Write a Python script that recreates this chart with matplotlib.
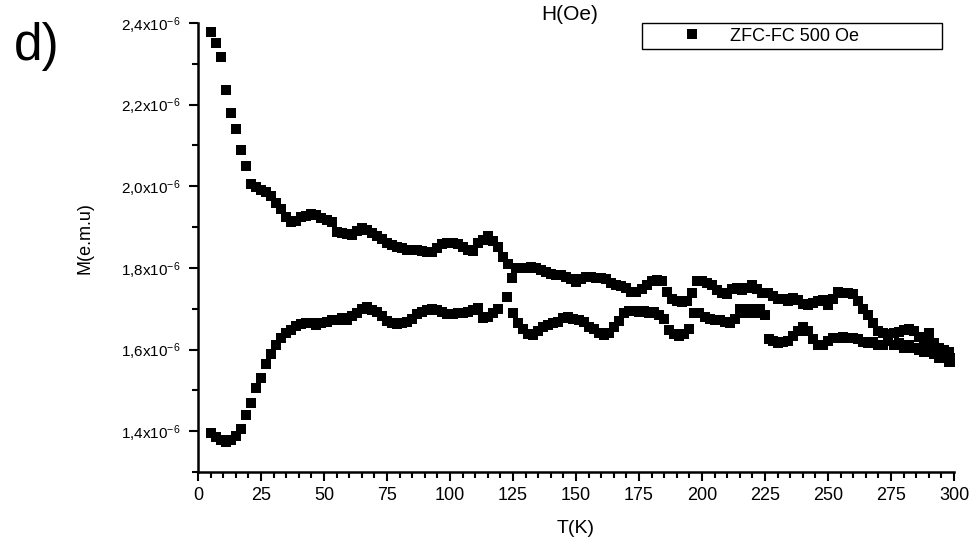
import matplotlib
matplotlib.use("Agg")
import matplotlib.pyplot as plt
from matplotlib.ticker import MultipleLocator, FuncFormatter, FixedLocator

plt.rcParams['font.family'] = ['Liberation Sans', 'DejaVu Sans']
plt.rcParams['mathtext.fontset'] = 'custom'
plt.rcParams['mathtext.rm'] = 'Liberation Sans'
plt.rcParams['mathtext.it'] = 'Liberation Sans'

# Lower branch (x 1e-6 emu)
t_low = [5, 7, 9, 11, 13, 15, 17, 19, 21, 23, 25, 27, 29, 31, 33, 35, 37, 39, 41, 43,
         45, 47, 49, 51, 53, 55, 57, 59, 61, 63, 65, 67, 69, 71, 73, 75, 77, 79, 81, 83,
         85, 87, 89, 91, 93, 95, 97, 99, 101, 103, 105, 107, 109, 111, 113, 115, 117, 119,
         122.5, 125, 127, 129, 131, 133, 135, 137, 139, 141, 143, 145, 147, 149, 151, 153,
         155, 157, 159, 161, 163, 165, 167, 169, 171, 173, 175, 177, 179, 181, 183, 185,
         187, 189, 191, 193, 195, 197, 199, 201, 203, 205, 207, 209, 211, 213, 215, 217,
         219, 221, 223, 225, 226.5, 228, 230, 232, 234, 236, 238, 240, 242, 244, 246, 248,
         250, 252, 254, 256, 258, 260, 262, 264, 266, 268, 270, 272, 274, 276, 278, 280,
         282, 284, 286, 288, 290, 292, 294, 296, 298, 299.5]
m_low = [1.396, 1.385, 1.378, 1.374, 1.378, 1.388, 1.405, 1.44, 1.47, 1.505, 1.53, 1.565,
         1.59, 1.612, 1.628, 1.64, 1.648, 1.657, 1.663, 1.665, 1.664, 1.66, 1.665, 1.667,
         1.672, 1.672, 1.678, 1.672, 1.683, 1.69, 1.70, 1.704, 1.698, 1.692, 1.682, 1.67,
         1.664, 1.663, 1.666, 1.668, 1.675, 1.688, 1.692, 1.698, 1.70, 1.698, 1.692, 1.688,
         1.688, 1.69, 1.69, 1.693, 1.698, 1.702, 1.677, 1.68, 1.69, 1.70,
         1.729, 1.69, 1.665, 1.65, 1.638, 1.636, 1.645, 1.655, 1.66, 1.665, 1.668, 1.678,
         1.68, 1.676, 1.672, 1.668, 1.655, 1.65, 1.64, 1.635, 1.64, 1.655, 1.67, 1.69,
         1.695, 1.695, 1.692, 1.695, 1.69, 1.692, 1.685, 1.675, 1.648, 1.638, 1.632,
         1.638, 1.65, 1.69, 1.69, 1.68, 1.675, 1.672, 1.672, 1.668, 1.666, 1.675, 1.70,
         1.69, 1.70, 1.69, 1.70, 1.685, 1.625, 1.62, 1.615, 1.618, 1.622, 1.632, 1.645,
         1.655, 1.645, 1.625, 1.612, 1.612, 1.62, 1.628, 1.628, 1.63, 1.628, 1.628, 1.625,
         1.618, 1.615, 1.618, 1.612, 1.61, 1.62, 1.612, 1.615, 1.605, 1.61, 1.605, 1.60,
         1.595, 1.60, 1.59, 1.58, 1.585, 1.57, 1.57]

# Upper branch (x 1e-6 emu)
t_up = [5, 7, 9, 11, 13, 15, 17, 19, 21, 23, 25, 27, 29, 31, 33, 35, 37, 39, 41, 43, 45,
        47, 49, 51, 53, 55, 57, 59, 61, 63, 65, 67, 69, 71, 73, 75, 77, 79, 81, 83, 85, 87,
        89, 91, 93, 95, 97, 99, 101, 103, 105, 107, 109, 111, 113, 115, 117, 119, 121, 123,
        124.5, 126, 128, 130, 132, 134, 136, 138, 140, 142, 144, 146, 148, 150, 152, 154,
        156, 158, 160, 162, 164, 166, 168, 170, 172, 174, 176, 178, 180, 182, 184, 186,
        188, 190, 192, 194, 196, 198, 200, 202, 204, 206, 208, 210, 212, 214, 216, 218,
        220, 222, 224, 226, 228, 230, 232, 234, 236, 238, 240, 242, 244, 246, 248, 250,
        252, 254, 256, 258, 260, 262, 264, 266, 268, 270, 272, 274, 276, 278, 280, 282,
        284, 286, 288, 290, 292, 294, 296, 298, 299.5]
m_up = [2.377, 2.35, 2.317, 2.236, 2.18, 2.14, 2.089, 2.05, 2.005, 1.998, 1.99, 1.985,
        1.975, 1.96, 1.945, 1.925, 1.912, 1.915, 1.925, 1.928, 1.932, 1.93, 1.922, 1.917,
        1.912, 1.888, 1.886, 1.884, 1.881, 1.89, 1.898, 1.892, 1.885, 1.878, 1.87, 1.86,
        1.855, 1.852, 1.848, 1.845, 1.844, 1.844, 1.842, 1.84, 1.838, 1.848, 1.858, 1.86,
        1.86, 1.858, 1.852, 1.845, 1.842, 1.86, 1.868, 1.878, 1.865, 1.852, 1.827, 1.81,
        1.775, 1.80, 1.80, 1.80, 1.802, 1.80, 1.795, 1.79, 1.785, 1.783, 1.782, 1.778,
        1.772, 1.765, 1.772, 1.778, 1.778, 1.775, 1.775, 1.772, 1.762, 1.758, 1.755, 1.75,
        1.742, 1.741, 1.748, 1.758, 1.768, 1.77, 1.768, 1.741, 1.725, 1.718, 1.716, 1.72,
        1.738, 1.768, 1.768, 1.763, 1.758, 1.745, 1.738, 1.735, 1.748, 1.75, 1.745, 1.752,
        1.758, 1.748, 1.738, 1.738, 1.732, 1.725, 1.725, 1.72, 1.726, 1.722, 1.712, 1.709,
        1.715, 1.72, 1.721, 1.71, 1.725, 1.741, 1.738, 1.738, 1.735, 1.72, 1.70, 1.685,
        1.665, 1.645, 1.64, 1.638, 1.64, 1.642, 1.648, 1.65, 1.645, 1.63, 1.62, 1.64,
        1.615, 1.605, 1.60, 1.595, 1.58]

x_ticks = list(range(0, 301, 25))
y_ticks = [1.4, 1.6, 1.8, 2.0, 2.2, 2.4]
legend_label = "ZFC-FC 500 Oe"

fig = plt.figure(figsize=(9.71, 5.42), dpi=100)
ax = fig.add_axes([198 / 971, 70 / 542, 756 / 971, 449 / 542])

style = dict(linestyle='none', marker='s', markersize=6.6, color='black',
             markeredgewidth=0)
ax.plot(t_low, [v * 1e-6 for v in m_low], label=legend_label, **style)
ax.plot(t_up, [v * 1e-6 for v in m_up], **style)

ax.set_xlim(0, 300)
ax.set_ylim(1.3e-6, 2.4e-6)
ax.xaxis.set_major_locator(FixedLocator(x_ticks))
ax.xaxis.set_minor_locator(MultipleLocator(5))
ax.yaxis.set_major_locator(FixedLocator([v * 1e-6 for v in y_ticks]))
ax.yaxis.set_minor_locator(MultipleLocator(0.1e-6))


def ylab(v, pos):
    return ("%.1f" % (v * 1e6)).replace('.', ',') + r"x10$^{-6}$"


ax.yaxis.set_major_formatter(FuncFormatter(ylab))

for side in ('top', 'right'):
    ax.spines[side].set_visible(False)
for side in ('left', 'bottom'):
    ax.spines[side].set_linewidth(1.8)

ax.tick_params(axis='both', which='major', direction='out', length=6.5, width=1.5,
               color='black')
ax.tick_params(axis='both', which='minor', direction='out', length=4, width=1.5)
ax.tick_params(axis='x', which='major', labelsize=13, pad=4)
ax.tick_params(axis='y', which='major', labelsize=11, pad=6)

ax.set_xlabel("T(K)", fontsize=14)
ax.set_ylabel("M(e.m.u)", fontsize=13)
ax.xaxis.set_label_coords(0.5, -0.108)
ax.yaxis.set_label_coords(-0.138, 0.520)

leg = ax.legend(loc='upper left', bbox_to_anchor=(444 / 756, 1.0, 300 / 756, 0),
                mode='expand', borderaxespad=0, fontsize=13, frameon=True,
                fancybox=False, framealpha=1, edgecolor='black', handlelength=5.05,
                handletextpad=-0.42, borderpad=0.25, numpoints=1)
leg.get_frame().set_linewidth(1.0)

fig.text(14 / 971, 1 - 60 / 542, "d)", fontsize=37, ha='left', va='baseline')
fig.text(570 / 971, 1 - 20 / 542, "H(Oe)", fontsize=15, ha='center', va='baseline')

fig.savefig("out.png", dpi=100)
